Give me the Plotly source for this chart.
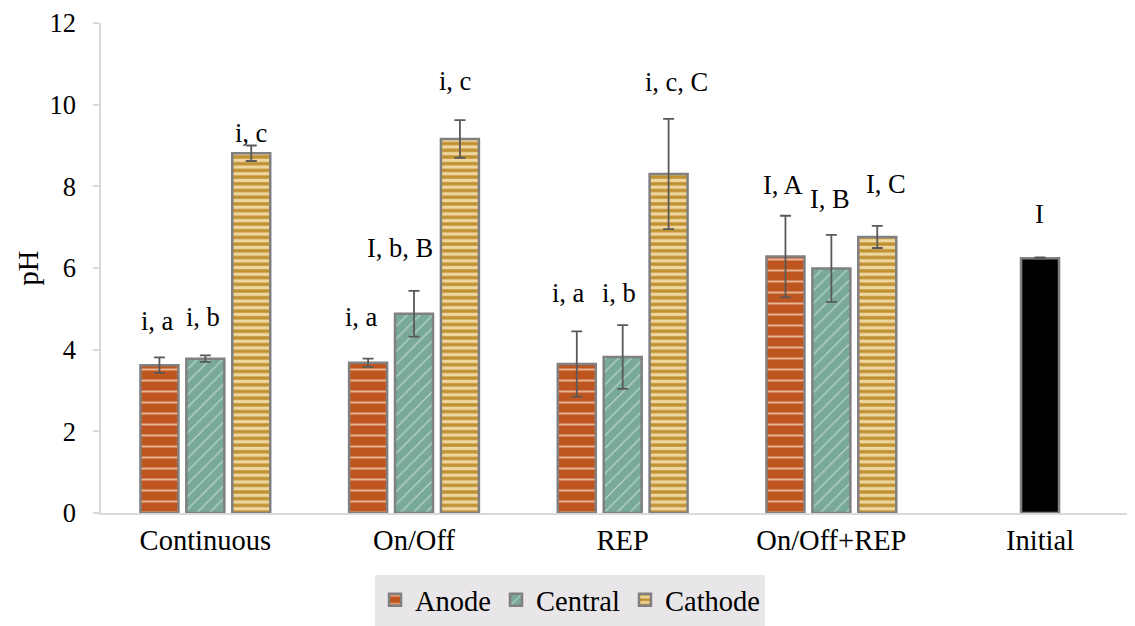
import plotly.graph_objects as go

categories = ["Continuous", "On/Off", "REP", "On/Off+REP", "Initial"]
treatments = ["Continuous", "On/Off", "REP", "On/Off+REP"]

anode = [3.62, 3.68, 3.65, 6.28]
anode_err = [0.19, 0.10, 0.80, 1.00]
central = [3.78, 4.88, 3.82, 5.99]
central_err = [0.08, 0.56, 0.78, 0.82]
cathode = [8.81, 9.16, 8.30, 6.76]
cathode_err = [0.19, 0.46, 1.35, 0.27]
initial = [6.24]
initial_err = [0.02]

anode_labels = ["i, a", "i, a", "i, a", "I, A"]
central_labels = ["i, b", "I, b, B", "i, b", "I, B"]
cathode_labels = ["i, c", "i, c", "i, c, C", "I, C"]
initial_labels = ["I"]

# label heights (pH units) as placed in the original
anode_label_y = [4.69, 4.79, 5.40, 8.04]
central_label_y = [4.79, 6.50, 5.40, 7.68]
cathode_label_y = [9.30, 10.59, 10.56, 8.06]
initial_label_y = [7.33]
# horizontal nudges of the labels (px)
anode_label_dx = [-48, -53, -54, -48]
central_label_dx = [-2, -14, -4, -1]
cathode_label_dx = [46, 41, 54, 55]
initial_label_dx = [-1]

FONT = "Liberation Serif, Times New Roman, DejaVu Serif, serif"
FS_LBL = 26.5
FS_CAT = 28.5
W = 0.182
STEP = 0.22
outline = dict(color="#808080", width=2.5)
err_style = dict(type="data", visible=True, color="#595959", thickness=1.8, width=5.5)

fig = go.Figure()
fig.add_trace(go.Bar(
    name="Anode", x=treatments, y=anode, width=W, offset=-STEP - W / 2,
    error_y=dict(array=anode_err, **err_style),
    marker=dict(color="#C0561F", line=outline,
                pattern=dict(shape="-", bgcolor="#C0561F", fgcolor="#F6D3BB",
                             size=11, solidity=0.18, fgopacity=0.75)),
))
fig.add_trace(go.Bar(
    name="Central", x=treatments, y=central, width=W, offset=-W / 2,
    error_y=dict(array=central_err, **err_style),
    marker=dict(color="#79A999", line=outline,
                pattern=dict(shape="/", bgcolor="#79A999", fgcolor="#E2F0EA",
                             size=9, solidity=0.14, fgopacity=0.6)),
))
fig.add_trace(go.Bar(
    name="Cathode", x=treatments, y=cathode, width=W, offset=STEP - W / 2,
    error_y=dict(array=cathode_err, **err_style),
    marker=dict(color="#BF9132", line=outline,
                pattern=dict(shape="-", bgcolor="#BF9132", fgcolor="#EFD59E",
                             size=6.7, solidity=0.5, fgopacity=1)),
))
fig.add_trace(go.Bar(
    name="Initial", x=["Initial"], y=initial, width=W, offset=-W / 2,
    error_y=dict(array=initial_err, **err_style),
    marker=dict(color="#000000", line=outline), showlegend=False,
))

def add_labels(xs, labels, ys, dxs):
    for xc, t, yv, dx in zip(xs, labels, ys, dxs):
        fig.add_annotation(x=xc, y=yv, text=t, showarrow=False, xshift=dx,
                           font=dict(family=FONT, size=FS_LBL, color="#000000"),
                           xref="x", yref="y")

add_labels(treatments, anode_labels, anode_label_y, anode_label_dx)
add_labels(treatments, central_labels, central_label_y, central_label_dx)
add_labels(treatments, cathode_labels, cathode_label_y, cathode_label_dx)
add_labels(["Initial"], initial_labels, initial_label_y, initial_label_dx)

fig.update_layout(
    width=1127, height=618,
    margin=dict(l=93, r=0, t=13, b=113),
    paper_bgcolor="white", plot_bgcolor="white",
    font=dict(family=FONT, size=FS_LBL, color="#000000"),
    barmode="group",
    legend=dict(orientation="h", x=0.4536, xanchor="center", y=-0.126, yanchor="top",
                bgcolor="#E8E6E8", font=dict(family=FONT, size=FS_CAT),
                itemwidth=30, traceorder="normal"),
    xaxis=dict(type="category", categoryorder="array", categoryarray=categories,
               range=[-0.5, 4.455], showline=True, linecolor="#D9D9D9", linewidth=1.5,
               ticks="", showgrid=False, zeroline=False, ticklabelstandoff=1,
               tickfont=dict(family=FONT, size=FS_CAT)),
    yaxis=dict(range=[0, 12], dtick=2, showline=True, linecolor="#D9D9D9", linewidth=1.5,
               ticks="outside", ticklen=6, tickcolor="#D9D9D9", tickwidth=1.5,
               showgrid=False, zeroline=False, ticklabelstandoff=12,
               ticklabeloverflow="allow",
               tickfont=dict(family=FONT, size=FS_LBL),
               title=dict(text="pH", font=dict(family=FONT, size=FS_CAT), standoff=2)),
)

fig.write_html("out.html")
